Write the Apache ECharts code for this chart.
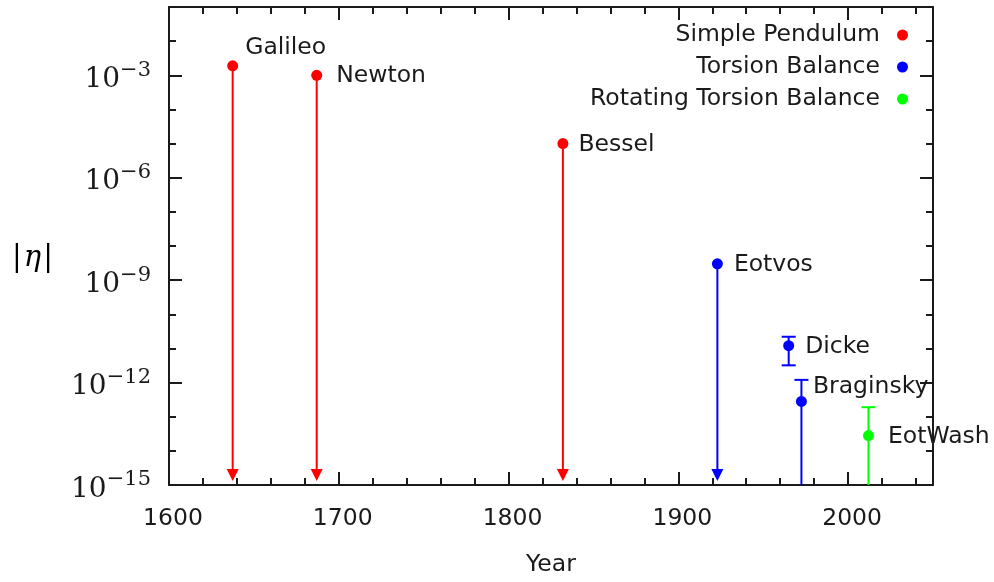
<!DOCTYPE html>
<html>
<head>
<meta charset="utf-8">
<script src="https://cdn.jsdelivr.net/npm/echarts@6/dist/echarts.min.js"></script>
<style>
  html, body { margin: 0; padding: 0; background: #ffffff; }
  #chart { width: 994px; height: 582px; }
</style>
</head>
<body>
<div id="chart"></div>
<script>
// ---------- data ----------
const experiments = ['Galileo', 'Newton', 'Bessel', 'Eotvos', 'Dicke', 'Braginsky', 'EotWash'];
const years       = [1637.5, 1687, 1832, 1923, 1965, 1972.5, 2012];
const eta         = [1.9e-3, 1e-3, 1e-5, 3e-9, 1.2e-11, 2.8e-13, 2.8e-14];
const etaHigh     = [null, null, null, null, 2.2e-11, 1.2e-12, 1.9e-13];
const etaLow      = [null, null, null, null, 3.2e-12, 0, 0];      // 0 = unbounded below
const upperLimit  = [true, true, true, true, false, false, false];
const methodOf    = [0, 0, 0, 1, 1, 1, 2];
const methods     = ['Simple Pendulum', 'Torsion Balance', 'Rotating Torsion Balance'];
const xTicks      = [1600, 1700, 1800, 1900, 2000];
const yTickExponents = [-15, -12, -9, -6, -3];

// ---------- styles ----------
const colors = ['#ff0000', '#0000ff', '#00ff00'];
const SANS = 'DejaVu Sans';
const SERIF = 'DejaVu Serif';
const labelPlace = {
  Galileo:   { distance: 7,  offset: [0, -18] },
  Newton:    { distance: 14, offset: [0, 1] },
  Bessel:    { distance: 10, offset: [0, 1] },
  Eotvos:    { distance: 11, offset: [0, 1] },
  Dicke:     { distance: 11, offset: [0, 1] },
  Braginsky: { distance: 6,  offset: [0, -15] },
  EotWash:   { distance: 14, offset: [0, 1] }
};

const Y_MIN = 1e-15, Y_MAX = 1e-1;
const axisColor = '#1a1a1a';

const chart = echarts.init(document.getElementById('chart'), null, { renderer: 'canvas' });

function yLabel(v) {
  const e = Math.round(Math.log10(v));
  return yTickExponents.includes(e) ? '{b|10}{s|\u2212' + (-e) + '}' : '';
}
const yRich = {
  b: { fontFamily: SERIF, fontSize: 28, lineHeight: 40, verticalAlign: 'middle', color: '#1a1a1a' },
  s: { fontFamily: SERIF, fontSize: 21, lineHeight: 20, verticalAlign: 'top', color: '#1a1a1a' }
};

function yAxisDef(position, major, withLabels) {
  return {
    type: 'log', logBase: 10, min: Y_MIN, max: Y_MAX,
    interval: major ? 3 : 1,
    position: position,
    axisLine: { show: major, lineStyle: { color: axisColor, width: 2 } },
    axisTick: { show: true, inside: true, length: major ? 13 : 7, lineStyle: { color: axisColor, width: 2 } },
    axisLabel: withLabels ? {
      show: true, margin: 18, formatter: yLabel, rich: yRich, padding: [9, 0, 0, 0],
      showMaxLabel: false
    } : { show: false },
    splitLine: { show: false },
    minorTick: { show: false }
  };
}

function xAxisDef(position, withLabels) {
  return {
    type: 'value', min: 1600, max: 2050, interval: 100,
    position: position,
    axisLine: { show: true, onZero: false, lineStyle: { color: axisColor, width: 2 } },
    axisTick: { show: true, inside: true, length: 13, lineStyle: { color: axisColor, width: 2 } },
    minorTick: { show: true, splitNumber: 5, length: 7, lineStyle: { color: axisColor, width: 2 } },
    axisLabel: withLabels ? {
      show: true, margin: 22, fontFamily: SANS, fontSize: 23.5, color: '#1a1a1a',
      padding: [0, 0, 0, 8],
      formatter: v => xTicks.includes(v) ? String(v) : ''
    } : { show: false },
    splitLine: { show: false },
    name: withLabels ? 'Year' : '',
    nameLocation: 'middle', nameGap: 68,
    nameTextStyle: { fontFamily: SANS, fontSize: 23.5, color: '#1a1a1a' }
  };
}

// scatter series per method
const scatterSeries = methods.map((m, k) => ({
  name: m,
  type: 'scatter',
  xAxisIndex: 0, yAxisIndex: 0,
  symbol: 'circle', symbolSize: 11,
  itemStyle: { color: colors[k], opacity: 1 },
  z: 5,
  data: experiments.map((n, i) => ({ n, i })).filter(o => methodOf[o.i] === k).map(o => ({
    name: o.n,
    value: [years[o.i], eta[o.i]],
    label: {
      show: true, position: 'right',
      distance: labelPlace[o.n].distance, offset: labelPlace[o.n].offset,
      formatter: '{b}', fontFamily: SANS, fontSize: 23.5, color: '#1a1a1a'
    }
  }))
}));

// stems, arrows and error bars
const barData = experiments.map((n, i) => [years[i], eta[i],
  etaLow[i] == null ? NaN : etaLow[i], etaHigh[i] == null ? NaN : etaHigh[i],
  upperLimit[i] ? 1 : 0, methodOf[i]]);

const barSeries = {
  type: 'custom',
  xAxisIndex: 0, yAxisIndex: 0,
  z: 3,
  silent: true,
  clip: true,
  encode: { x: 0, y: 1 },
  data: barData,
  renderItem: function (params, api) {
    const x = api.value(0);
    const p = api.coord([x, api.value(1)]);
    const bottom = api.coord([x, Y_MIN])[1];
    const col = colors[api.value(5)];
    const ls = { stroke: col, lineWidth: 2 };
    const children = [];
    if (api.value(4) === 1) {
      children.push({ type: 'line', shape: { x1: p[0], y1: p[1], x2: p[0], y2: bottom - 12 }, style: ls });
      children.push({ type: 'polygon', shape: { points: [[p[0] - 6, bottom - 16], [p[0] + 6, bottom - 16], [p[0], bottom - 4]] },
        style: { fill: col } });
    } else {
      const hi = api.coord([x, api.value(3)]);
      const lowVal = api.value(2);
      const lo = lowVal > 0 ? api.coord([x, lowVal])[1] : bottom;
      children.push({ type: 'line', shape: { x1: p[0], y1: hi[1], x2: p[0], y2: lo }, style: ls });
      children.push({ type: 'line', shape: { x1: p[0] - 7, y1: hi[1], x2: p[0] + 7, y2: hi[1] }, style: ls });
      if (lowVal > 0) {
        children.push({ type: 'line', shape: { x1: p[0] - 7, y1: lo, x2: p[0] + 7, y2: lo }, style: ls });
      }
    }
    return { type: 'group', children: children };
  }
};

const option = {
  backgroundColor: '#ffffff',
  animation: false,
  grid: { left: 169, right: 61, top: 7, bottom: 95, containLabel: false },
  xAxis: [xAxisDef('bottom', true), xAxisDef('top', false)],
  yAxis: [
    yAxisDef('left', true, true),
    yAxisDef('left', false, false),
    yAxisDef('right', true, false),
    yAxisDef('right', false, false)
  ],
  legend: {
    data: methods,
    orient: 'vertical',
    right: 86, top: 23,
    padding: 0,
    align: 'right',
    icon: 'circle',
    itemWidth: 11, itemHeight: 11,
    itemGap: 8,
    selectedMode: false,
    textStyle: { fontFamily: SANS, fontSize: 23.5, lineHeight: 24, color: '#1a1a1a', padding: [0, 12, 0, 0] }
  },
  graphic: [{
    type: 'text', left: 12, top: 244,
    style: {
      text: '{a||}{e|\u03b7}{a||}',
      rich: {
        a: { fontFamily: SERIF, fontSize: 29, color: '#1a1a1a' },
        e: { fontFamily: SERIF, fontSize: 29, fontStyle: 'italic', color: '#1a1a1a', padding: [0, 2, 0, 2] }
      }
    }
  }],
  series: [barSeries].concat(scatterSeries)
};

chart.setOption(option);
</script>
</body>
</html>
